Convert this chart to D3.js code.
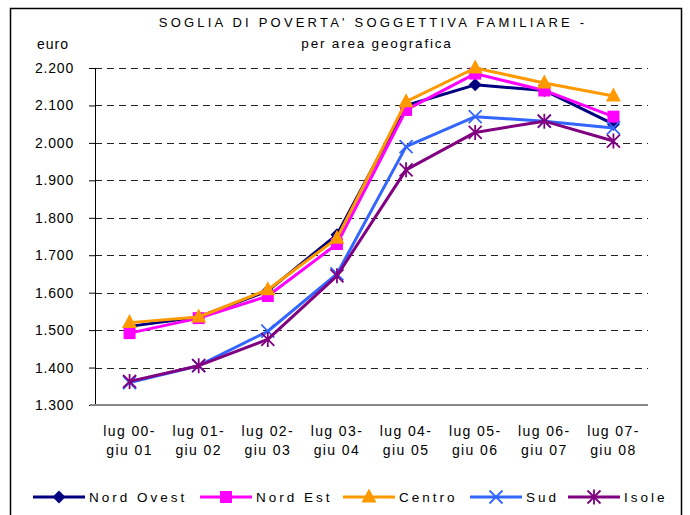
<!DOCTYPE html>
<html>
<head>
<meta charset="utf-8">
<script src="https://cdn.jsdelivr.net/npm/d3@7"></script>
<style>
  body { margin: 0; background: #fff; }
  svg { font-family: "Liberation Sans", Arial, sans-serif; }
</style>
</head>
<body>
<svg width="690" height="515"></svg>
<script>
const svg = d3.select('svg')

// data
const periods = ['lug 00-|giu 01', 'lug 01-|giu 02', 'lug 02-|giu 03', 'lug 03-|giu 04',
                 'lug 04-|giu 05', 'lug 05-|giu 06', 'lug 06-|giu 07', 'lug 07-|giu 08']
const nordOvest = [1510, 1535, 1605, 1755, 2100, 2155, 2140, 2050]
const nordEst   = [1492, 1532, 1591, 1730, 2088, 2185, 2140, 2070]
const centro    = [1520, 1535, 1608, 1745, 2110, 2200, 2160, 2125]
const sud       = [1360, 1405, 1497, 1650, 1990, 2070, 2058, 2040]
const isole     = [1363, 1405, 1475, 1645, 1928, 2028, 2058, 2005]
const yTicks = [1300, 1400, 1500, 1600, 1700, 1800, 1900, 2000, 2100, 2200]

const series = [
    {name: 'Nord Ovest', values: nordOvest, color: '#000080', marker: 'diamond'},
    {name: 'Nord Est', values: nordEst, color: '#FF00FF', marker: 'square'},
    {name: 'Centro', values: centro, color: '#FF9900', marker: 'triangle'},
    {name: 'Sud', values: sud, color: '#3366FF', marker: 'x'},
    {name: 'Isole', values: isole, color: '#800080', marker: 'star'}
]

const margin = {top: 68, left: 95, right: 42, bottom: 110}
const width = 690, height = 515
const inner_width = width - margin.left - margin.right
const inner_height = height - margin.top - margin.bottom

// outer frame
svg.append('rect')
    .attr('x', 10.5).attr('y', 8.5)
    .attr('width', 671).attr('height', 520)
    .attr('fill', 'none').attr('stroke', '#000').attr('stroke-width', 1.5)

// titles
svg.append('text')
    .attr('x', 373).attr('y', 27)
    .attr('text-anchor', 'middle')
    .attr('font-size', 13).attr('letter-spacing', 3.2)
    .text("SOGLIA DI POVERTA' SOGGETTIVA FAMILIARE -")
svg.append('text')
    .attr('x', 377).attr('y', 48)
    .attr('text-anchor', 'middle')
    .attr('font-size', 13.5).attr('letter-spacing', 1.8)
    .text('per area geografica')
svg.append('text')
    .attr('x', 37).attr('y', 49)
    .attr('font-size', 14).attr('letter-spacing', 1)
    .text('euro')

const x_scale = d3.scaleBand()
    .domain(periods)
    .range([0, inner_width])
    .padding(0)

const y_scale = d3.scaleLinear()
    .domain([1300, 2200])
    .range([inner_height, 0])

const g = svg.append('g')
    .attr('transform', `translate(${margin.left},${margin.top})`)

// dashed grid
g.append('g')
    .selectAll('line').data(yTicks.slice(1))
    .enter().append('line')
    .attr('x1', 0).attr('x2', inner_width)
    .attr('y1', d => Math.round(y_scale(d)) + 0.5)
    .attr('y2', d => Math.round(y_scale(d)) + 0.5)
    .attr('stroke', '#222')
    .attr('stroke-dasharray', '7,5')

const fmt = d3.formatLocale({decimal: ',', thousands: '.', grouping: [3], currency: ['', '€']}).format(',d')

const yAxis = g.append('g')
    .call(d3.axisLeft(y_scale).tickValues(yTicks).tickFormat(fmt).tickSize(6).tickPadding(15))
yAxis.select('.domain').attr('stroke', '#000').attr('d', `M0.5,0V${inner_height}`)
yAxis.selectAll('.tick line').attr('stroke', '#000')
yAxis.selectAll('text')
    .attr('font-size', 14).attr('letter-spacing', 0.8).attr('fill', '#000')
    .attr('font-family', '"Liberation Sans", Arial, sans-serif')

const xAxis = g.append('g')
    .attr('transform', `translate(0,${inner_height})`)
    .call(d3.axisBottom(x_scale).tickSize(0).tickPadding(0).tickFormat(''))
xAxis.select('.domain').attr('stroke', '#888').attr('stroke-width', 2)
    .attr('d', `M-5,0H${inner_width}`)
xAxis.selectAll('.tick').each(function(d) {
    const parts = d.split('|')
    const t = d3.select(this).append('text')
        .attr('fill', '#000').attr('font-size', 14).attr('letter-spacing', 1.4)
        .attr('font-family', '"Liberation Sans", Arial, sans-serif')
        .attr('text-anchor', 'middle')
    t.append('tspan').attr('x', 0).attr('y', 31).text(parts[0])
    t.append('tspan').attr('x', 0).attr('y', 50).text(parts[1])
})

const cx = i => x_scale(periods[i]) + x_scale.bandwidth() / 2

const drawMarker = (sel, type, color, x, y) => {
    if (type === 'diamond') {
        sel.append('path').attr('d', `M${x},${y-6.5}L${x+6.5},${y}L${x},${y+6.5}L${x-6.5},${y}Z`).attr('fill', color)
    } else if (type === 'square') {
        sel.append('rect').attr('x', x - 6).attr('y', y - 6).attr('width', 12).attr('height', 12).attr('fill', color)
    } else if (type === 'triangle') {
        sel.append('path').attr('d', `M${x},${y-8.5}L${x+7.5},${y+5.5}L${x-7.5},${y+5.5}Z`).attr('fill', color)
    } else if (type === 'x') {
        sel.append('path').attr('d', `M${x-6.5},${y-6.5}L${x+6.5},${y+6.5}M${x-6.5},${y+6.5}L${x+6.5},${y-6.5}`)
            .attr('stroke', color).attr('stroke-width', 1.8)
    } else {
        sel.append('path').attr('d', `M${x-6.5},${y-6.5}L${x+6.5},${y+6.5}M${x-6.5},${y+6.5}L${x+6.5},${y-6.5}M${x},${y-7.5}V${y+7.5}`)
            .attr('stroke', color).attr('stroke-width', 1.8)
    }
}

const line = d3.line()
    .x((d, i) => cx(i))
    .y(d => y_scale(d))

series.forEach(s => {
    const sg = g.append('g')
    sg.append('path')
        .datum(s.values)
        .attr('d', line)
        .attr('fill', 'none')
        .attr('stroke', s.color)
        .attr('stroke-width', 3)
        .attr('stroke-linejoin', 'round')
    s.values.forEach((v, i) => drawMarker(sg, s.marker, s.color, cx(i), y_scale(v)))
})

// legend
const legendX = [33, 200, 343, 470, 568]
const legendY = 497
const legend = svg.append('g')
series.forEach((s, i) => {
    const lx = legendX[i]
    legend.append('line')
        .attr('x1', lx).attr('x2', lx + 52)
        .attr('y1', legendY).attr('y2', legendY)
        .attr('stroke', s.color).attr('stroke-width', 3)
    drawMarker(legend, s.marker, s.color, lx + 26, legendY)
    legend.append('text')
        .attr('x', lx + 56).attr('y', legendY + 5)
        .attr('font-size', 13.5).attr('letter-spacing', 3)
        .text(s.name)
})
</script>
</body>
</html>
